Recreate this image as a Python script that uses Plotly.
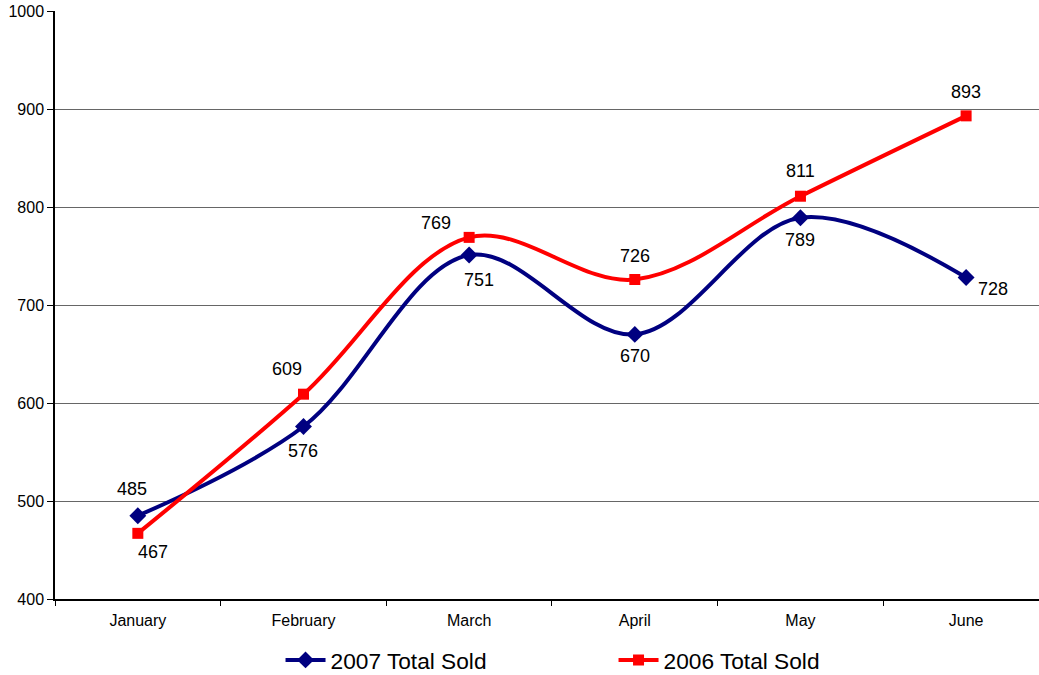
import plotly.graph_objects as go

months = ["January", "February", "March", "April", "May", "June"]
sold_2007 = [485, 576, 751, 670, 789, 728]
sold_2006 = [467, 609, 769, 726, 811, 893]

# label offsets (px) for each point's value label
off_2007 = [(-6, 27), (0, -24), (10, -25), (0, -22), (0, -22), (27, -11)]
off_2006 = [(15, -19), (-16, 25), (-33, 14), (0, 24), (0, 25), (0, 24)]

NAVY = "#000080"
RED = "#FF0000"
FONT = "Liberation Sans, Arial, sans-serif"

fig = go.Figure()
fig.add_trace(go.Scatter(
    x=months, y=sold_2007, name="2007 Total Sold", mode="lines+markers",
    line=dict(color=NAVY, width=4, shape="spline", smoothing=1.0),
    marker=dict(symbol="diamond", size=13, color=NAVY),
))
fig.add_trace(go.Scatter(
    x=months, y=sold_2006, name="2006 Total Sold", mode="lines+markers",
    line=dict(color=RED, width=4, shape="spline", smoothing=1.0),
    marker=dict(symbol="square", size=11, color=RED),
))

annotations = []
for vals, offs in ((sold_2007, off_2007), (sold_2006, off_2006)):
    for m, v, (dx, dy) in zip(months, vals, offs):
        annotations.append(dict(
            x=m, y=v, xref="x", yref="y", text=str(v), showarrow=False,
            xshift=dx, yshift=dy, font=dict(family=FONT, size=18, color="#000000"),
        ))

fig.update_layout(
    width=1039, height=675,
    margin=dict(l=55, r=0, t=11, b=76, autoexpand=False),
    paper_bgcolor="white", plot_bgcolor="white",
    font=dict(family=FONT, color="#000000"),
    showlegend=True,
    legend=dict(
        orientation="h", xref="container", yref="container",
        x=0.270, xanchor="left", y=0.022, yanchor="middle",
        font=dict(family=FONT, size=22.7, color="#000000"),
        itemwidth=40, traceorder="normal", entrywidth=278,
    ),
    annotations=annotations,
    xaxis=dict(
        type="category", range=[-0.5, 5.44], showgrid=False,
        showline=True, linecolor="#000000", linewidth=1.5,
        ticks="outside", tickson="boundaries", ticklen=5, tickcolor="#000000",
        tickfont=dict(family=FONT, size=16, color="#000000"),
        ticklabelstandoff=6,
        zeroline=False,
    ),
    yaxis=dict(
        range=[400, 1000], dtick=100, showgrid=True, gridcolor="#666666", gridwidth=1.2,
        showline=True, linecolor="#000000", linewidth=1.5,
        ticks="outside", ticklen=6, tickcolor="#000000",
        tickfont=dict(family=FONT, size=16, color="#000000"),
        zeroline=False,
    ),
)

fig.write_html("out.html")
